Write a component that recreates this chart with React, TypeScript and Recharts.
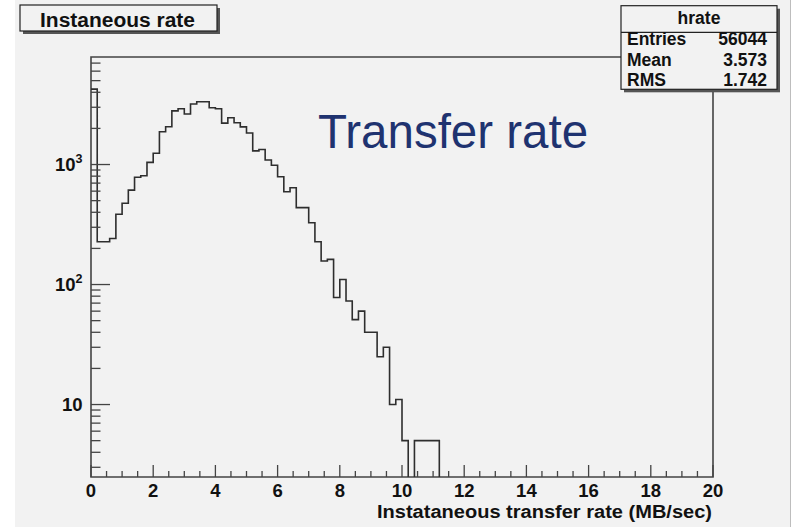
import { ComposedChart, Line, XAxis, YAxis, ReferenceArea } from 'recharts';

// histogram hrate: 0.2 MB/sec bins starting at 0 (bins past 11.2 are empty)
const binStart = 0;
const binWidth = 0.2;
const counts = [
  4250, 227, 227, 242, 385, 475, 612, 783, 806, 1043,
  1240, 1875, 2065, 2800, 2915, 2635, 3190, 3335, 3335, 2970,
  2915, 2215, 2455, 2230, 2060, 1830, 1300, 1335, 1090, 985,
  790, 593, 640, 437, 437, 327, 227, 157, 162, 78,
  110, 73, 51, 60, 40, 40, 25, 30, 10, 11,
  5, 0, 5, 5, 5, 5,
];

const xMajorTicks = [0, 2, 4, 6, 8, 10, 12, 14, 16, 18, 20];
const xMinorStep = 0.5;
const yTicks = [
  3, 4, 5, 6, 7, 8, 9, 10,
  20, 30, 40, 50, 60, 70, 80, 90, 100,
  200, 300, 400, 500, 600, 700, 800, 900, 1000,
  2000, 3000, 4000, 5000, 6000, 7000,
];
const yDecades = [10, 100, 1000];
const yDomain = [2.49, 7870];

const statsTitle = 'hrate';
const statsLabels = ['Entries', 'Mean', 'RMS'];
const statsValues = ['56044', '3.573', '1.742'];

const histTitle = 'Instaneous rate';
const xTitle = 'Instataneous transfer rate (MB/sec)';
const note = 'Transfer rate';

// zero bins go below the frame and get clipped, like ROOT does
const data = [
  ...counts.map((c, i) => ({ x: binStart + i * binWidth, y: c > 0 ? c : 1 })),
  { x: binStart + counts.length * binWidth, y: 1 },
];
const xTicks = Array.from({ length: 20 / xMinorStep + 1 }, (_, i) => i * xMinorStep);

const FONT = '"Liberation Sans", Arial, Helvetica, sans-serif';
const BG = '#f2f2f2';

const XTick = (props: any) => {
  const { x, y, payload } = props;
  const v = payload.value;
  const major = xMajorTicks.includes(v);
  return (
    <g>
      <line x1={x} x2={x} y1={y} y2={y - (major ? 12 : 6)} stroke="#444" strokeWidth={1.3} />
      {major && (
        <text x={x} y={y + 20} textAnchor="middle" fontFamily={FONT} fontWeight="bold" fontSize={18.5} fill="#111">
          {v}
        </text>
      )}
    </g>
  );
};

const YTick = (props: any) => {
  const { x, y, payload } = props;
  const v = payload.value;
  const major = yDecades.includes(v);
  const exp = Math.round(Math.log10(v));
  return (
    <g>
      <line x1={x} x2={x + (major ? 19 : 9.5)} y1={y} y2={y} stroke="#444" strokeWidth={1.3} />
      {major && (
        <text x={x - 8.5} y={y + 6.6} textAnchor="end" fontFamily={FONT} fontWeight="bold" fontSize={18.5} fill="#111">
          10
          {exp > 1 && (
            <tspan fontSize={12.5} dy={-8}>
              {exp}
            </tspan>
          )}
        </text>
      )}
    </g>
  );
};

const App = () => {
  return (
    <div style={{ position: 'absolute', left: 0, top: 0, width: 792, height: 527, background: '#fff', overflow: 'hidden' }}>
      <div style={{ position: 'absolute', left: 15, top: 0, width: 775, height: 527, background: BG, borderRight: '1px solid #bdbdbd' }} />
      <div style={{ position: 'absolute', left: 0, top: 0 }}>
        <ComposedChart width={792} height={527} data={data} margin={{ top: 57, right: 79, bottom: 0, left: 0 }}>
          <XAxis
            dataKey="x"
            type="number"
            domain={[0, 20]}
            ticks={xTicks}
            interval={0}
            allowDataOverflow
            axisLine={false}
            tickLine={false}
            tickSize={0}
            tickMargin={0}
            height={50}
            tick={<XTick />}
          />
          <YAxis
            type="number"
            scale="log"
            domain={yDomain}
            ticks={yTicks}
            interval={0}
            allowDataOverflow
            axisLine={false}
            tickLine={false}
            tickSize={0}
            tickMargin={0}
            width={91}
            tick={<YTick />}
          />
          <Line
            dataKey="y"
            type="stepAfter"
            stroke="#2e2e2e"
            strokeWidth={1.6}
            dot={false}
            activeDot={false}
            isAnimationActive={false}
          />
          <ReferenceArea
            x1={0}
            x2={20}
            y1={yDomain[0]}
            y2={yDomain[1]}
            fill="none"
            stroke="#444"
            strokeWidth={1.6}
            ifOverflow="visible"
          />
        </ComposedChart>
      </div>
      <svg width={792} height={527} style={{ position: 'absolute', left: 0, top: 0, pointerEvents: 'none' }}>
        {/* title box */}
        <rect x={23} y={8} width={197} height={26} fill="#555" />
        <rect x={20} y={5} width={197} height={26} fill={BG} stroke="#222" strokeWidth={1.2} />
        <text
          x={40}
          y={26.5}
          textLength={155}
          lengthAdjust="spacingAndGlyphs"
          fontFamily={FONT}
          fontWeight="bold"
          fontSize={19.5}
          fill="#111"
        >
          {histTitle}
        </text>
        {/* stats box */}
        <rect x={624} y={8.7} width={156} height={83.6} fill="#555" />
        <rect x={621} y={5.7} width={156} height={83.6} fill={BG} stroke="#222" strokeWidth={1.2} />
        <line x1={621} x2={777} y1={32.3} y2={32.3} stroke="#222" strokeWidth={1.2} />
        <text x={699} y={24} textAnchor="middle" fontFamily={FONT} fontWeight="bold" fontSize={17.5} fill="#111">
          {statsTitle}
        </text>
        {statsLabels.map((l, i) => (
          <g key={l}>
            <text x={627} y={45 + i * 20.7} fontFamily={FONT} fontWeight="bold" fontSize={17.5} fill="#111">
              {l}
            </text>
            <text x={767} y={45 + i * 20.7} textAnchor="end" fontFamily={FONT} fontWeight="bold" fontSize={17.5} fill="#111">
              {statsValues[i]}
            </text>
          </g>
        ))}
        {/* axis title */}
        <text
          x={377}
          y={517.5}
          textLength={335}
          lengthAdjust="spacingAndGlyphs"
          fontFamily={FONT}
          fontWeight="bold"
          fontSize={18}
          fill="#111"
        >
          {xTitle}
        </text>
        {/* slide annotation */}
        <text x={318} y={147.7} fontFamily={FONT} fontSize={47.5} fill="#1f3370">
          {note}
        </text>
      </svg>
    </div>
  );
};

export default App;
